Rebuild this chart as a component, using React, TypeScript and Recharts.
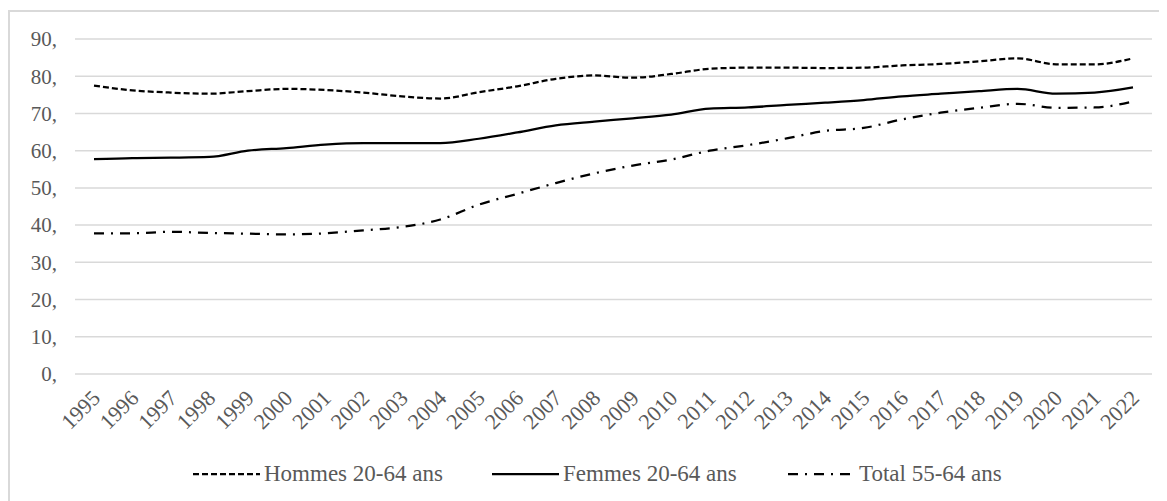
import { CartesianGrid, Legend, Line, LineChart, XAxis, YAxis } from 'recharts';

const YEARS = [
  '1995', '1996', '1997', '1998', '1999', '2000', '2001', '2002', '2003', '2004',
  '2005', '2006', '2007', '2008', '2009', '2010', '2011', '2012', '2013', '2014',
  '2015', '2016', '2017', '2018', '2019', '2020', '2021', '2022',
];

const HOMMES = [
  77.5, 76.2, 75.6, 75.3, 76.0, 76.6, 76.3, 75.6, 74.6, 74.0,
  75.7, 77.3, 79.3, 80.2, 79.6, 80.6, 82.0, 82.3, 82.3, 82.2,
  82.3, 82.9, 83.3, 84.0, 84.8, 83.2, 83.2, 84.8,
];

const FEMMES = [
  57.7, 58.0, 58.1, 58.3, 60.0, 60.7, 61.6, 62.0, 62.0, 62.0,
  63.2, 64.9, 66.8, 67.8, 68.7, 69.7, 71.3, 71.6, 72.3, 72.9,
  73.6, 74.6, 75.3, 76.0, 76.6, 75.3, 75.6, 77.0,
];

const TOTAL = [
  37.8, 37.8, 38.2, 37.9, 37.7, 37.5, 37.8, 38.6, 39.5, 41.5,
  45.5, 48.4, 51.3, 53.9, 56.0, 57.6, 60.0, 61.5, 63.3, 65.3,
  66.1, 68.4, 70.2, 71.5, 72.6, 71.5, 71.6, 73.2,
];

const Y_TICKS = [0, 10, 20, 30, 40, 50, 60, 70, 80, 90];

const SERIES = [
  { key: 'hommes', name: 'Hommes 20-64 ans', dash: '6 3', slot: 299 },
  { key: 'femmes', name: 'Femmes 20-64 ans', dash: undefined, slot: 296 },
  { key: 'total', name: 'Total 55-64 ans', dash: '10 7 2 7', slot: 240 },
];

const data = YEARS.map((year, i) => ({
  year,
  hommes: HOMMES[i],
  femmes: FEMMES[i],
  total: TOTAL[i],
}));

const FONT = "'Liberation Serif', 'Times New Roman', serif";
const TEXT = '#595959';

function YTick({ x, y, payload }: any) {
  return (
    <text x={x} y={y} dy="0.35em" textAnchor="end" fill={TEXT} fontSize={21} fontFamily={FONT}>
      {`${payload.value},`}
    </text>
  );
}

// year labels turned 45°, each one ending just right of its category point
function XTick({ x, y, payload }: any) {
  return (
    <text
      transform={`translate(${x + 2},${y + 12}) rotate(-45)`}
      dy="0.35em"
      textAnchor="end"
      fill={TEXT}
      fontSize={22}
      fontFamily={FONT}
    >
      {payload.value}
    </text>
  );
}

function LegendRow() {
  return (
    <div style={{ display: 'flex', alignItems: 'center', fontFamily: FONT, fontSize: 23, color: TEXT }}>
      {SERIES.map((s) => (
        <div key={s.key} style={{ width: s.slot, display: 'flex', alignItems: 'center', whiteSpace: 'nowrap' }}>
          <svg width={67} height={10} style={{ marginRight: 4 }}>
            <line x1={0} y1={5} x2={67} y2={5} stroke="#000" strokeWidth={2.25} strokeDasharray={s.dash} />
          </svg>
          <span>{s.name}</span>
        </div>
      ))}
    </div>
  );
}

export default function App() {
  return (
    <div style={{ width: 1159, height: 493, overflow: 'hidden' }}>
      <div
        style={{
          marginTop: 2,
          width: 1170,
          height: 510,
          border: '2px solid #d9d9d9',
          boxSizing: 'border-box',
          background: '#fff',
        }}
      >
        <LineChart
          width={1158}
          height={486}
          data={data}
          margin={{ top: 27, right: 16, left: 0, bottom: 84 }}
        >
          <CartesianGrid vertical={false} stroke="#d9d9d9" strokeWidth={1.5} />
          <XAxis
            dataKey="year"
            interval={0}
            tickLine={false}
            axisLine={false}
            height={40}
            padding={{ left: 19, right: 19 }}
            tick={<XTick />}
          />
          <YAxis
            domain={[0, 90]}
            ticks={Y_TICKS}
            width={65}
            tickLine={false}
            axisLine={false}
            tickSize={0}
            tickMargin={18}
            tick={<YTick />}
          />
          {SERIES.map((s) => (
            <Line
              key={s.key}
              type="monotone"
              dataKey={s.key}
              name={s.name}
              stroke="#000"
              strokeWidth={2.25}
              strokeDasharray={s.dash}
              dot={false}
              isAnimationActive={false}
            />
          ))}
          <Legend
            layout="horizontal"
            verticalAlign="middle"
            align="center"
            content={<LegendRow />}
            wrapperStyle={{ left: 183, top: 449, width: 900, bottom: 'auto' }}
          />
        </LineChart>
      </div>
    </div>
  );
}
